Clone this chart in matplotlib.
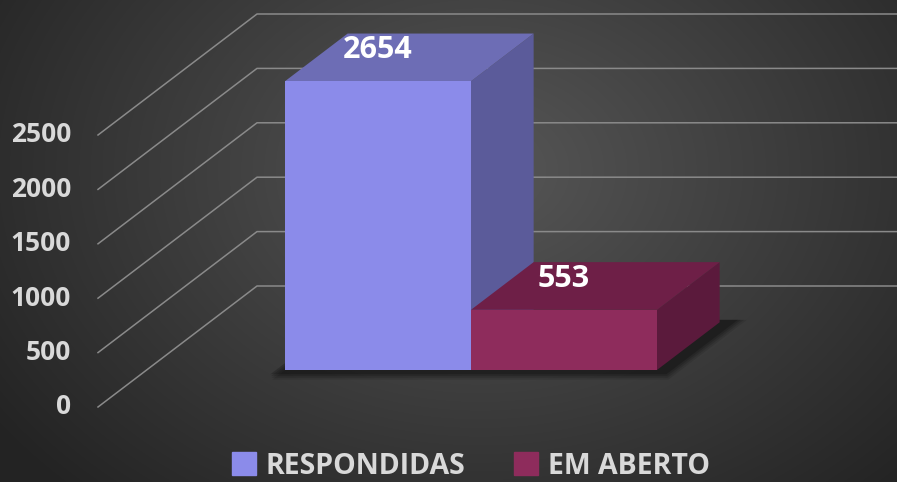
import matplotlib.pyplot as plt
import numpy as np
from matplotlib.patches import Polygon, Patch

categories = ['RESPONDIDAS', 'EM ABERTO']
values = [2654, 553]
ticks = [0, 500, 1000, 1500, 2000, 2500]

front_col = ['#8b8bea', '#8e2c5c']
top_col = ['#6d6db5', '#6e1f47']
side_col = ['#5b5b9a', '#5b1a3c']

plt.rcParams['font.family'] = ['Open Sans', 'DejaVu Sans']

W, H = 897, 482
px_per_unit = 54.4 / 500          # vertical pixels per value unit
v_top = 407 / px_per_unit
v_bot = (407 - H) / px_per_unit
depth_dx = 159                    # full-depth shift in x (px)
depth_dv = 121 / px_per_unit      # full-depth shift in value units


def proj(x, v, d):
    return (x + depth_dx * d, v + depth_dv * d)


fig = plt.figure(figsize=(W / 100, H / 100), dpi=100)
ax = fig.add_axes([0, 0, 1, 1])
ax.set_xlim(0, W)
ax.set_ylim(v_bot, v_top)
ax.axis('off')

# background radial gradient
yy, xx = np.mgrid[0:H, 0:W]
r = np.sqrt(((xx - 480) / 560.0) ** 2 + ((yy - 170) / 420.0) ** 2)
g = np.clip(0.34 - 0.19 * r, 0.14, 0.34)
ax.imshow(np.dstack([g, g, g]), extent=(0, W, v_bot, v_top), aspect='auto', zorder=0)

# gridlines (floor-to-back-wall style)
x_front = 98
for t in ticks:
    p0 = proj(x_front, t, 0)
    p1 = proj(x_front, t, 1)
    ax.plot([p0[0], p1[0], W], [p0[1], p1[1], p1[1]], color='#8a8a8a', lw=1.1, zorder=1)
    ax.text(71, t, str(t), ha='right', va='center', fontsize=19, fontweight='bold',
            color='#d9d9d9', zorder=5)

# bars
d0, d1 = 0.306, 0.70
bar_w = 186
x_start = 285 - depth_dx * d0

# shadow on floor
sx0 = x_start - 10
sx1 = x_start + bar_w * len(values) + 14
for k, a in enumerate([0.10, 0.12, 0.15, 0.2]):
    e = 10 - k * 3
    pts = [proj(sx0 + e, 0, d0 - 0.03 - 0.005 * e), proj(sx1 + e, 0, d0 - 0.03 - 0.005 * e),
           proj(sx1 + e, 0, d1 + 0.02), proj(sx0 + e, 0, d1 + 0.02)]
    ax.add_patch(Polygon(pts, closed=True, color='black', alpha=a, lw=0, zorder=2))

for i, val in enumerate(values):
    xl = x_start + i * bar_w
    xr = xl + bar_w
    front = [proj(xl, 0, d0), proj(xr, 0, d0), proj(xr, val, d0), proj(xl, val, d0)]
    top = [proj(xl, val, d0), proj(xr, val, d0), proj(xr, val, d1), proj(xl, val, d1)]
    side = [proj(xr, 0, d0), proj(xr, 0, d1), proj(xr, val, d1), proj(xr, val, d0)]
    ax.add_patch(Polygon(side, closed=True, color=side_col[i], lw=0, zorder=3 + i * 0.1))
    ax.add_patch(Polygon(top, closed=True, color=top_col[i], lw=0, zorder=3 + i * 0.1))
    ax.add_patch(Polygon(front, closed=True, color=front_col[i], lw=0, zorder=3.05 + i * 0.1))
    cx, cv = proj((xl + xr) / 2, val, d0)
    ax.text(cx, cv + 31 / px_per_unit, str(val), ha='center', va='center', fontsize=22,
            fontweight='bold', color='white', zorder=6)

handles = [Patch(color=c) for c in front_col]
leg = fig.legend(handles, categories, loc='center', bbox_to_anchor=(471 / W, 1 - 466 / H),
                 ncol=2, frameon=False, prop={'size': 20.5, 'weight': 'bold'},
                 labelcolor='#d9d9d9', handlelength=0.85, handleheight=0.85,
                 handletextpad=0.35, columnspacing=1.7)

fig.savefig('out.png', dpi=100)
